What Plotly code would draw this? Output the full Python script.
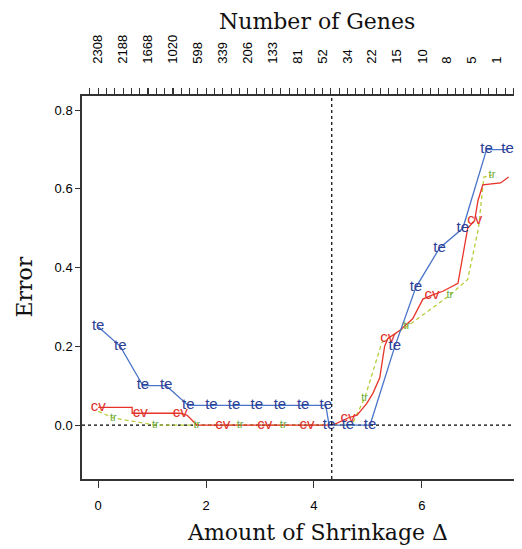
import plotly.graph_objects as go

# test error (blue), one "te" label per point
te_x = [0.00, 0.41, 0.83, 1.26, 1.67, 2.10, 2.52, 2.94, 3.37, 3.80, 4.22, 4.28, 4.63, 5.04, 5.50, 5.89, 6.33, 6.76, 7.20, 7.59]
te_y = [0.25, 0.20, 0.10, 0.10, 0.05, 0.05, 0.05, 0.05, 0.05, 0.05, 0.05, 0.00, 0.00, 0.00, 0.20, 0.35, 0.45, 0.50, 0.70, 0.70]

# cross-validation error (red)
cv_x = [0.00, 0.63, 0.63, 1.52, 1.65, 1.83, 2.31, 3.09, 3.87, 4.35, 4.63, 4.80, 4.98, 5.09, 5.22, 5.31, 5.37,
        5.59, 5.83, 6.02, 6.19, 6.39, 6.67, 6.85, 6.98, 7.04, 7.13, 7.46, 7.61]
cv_y = [0.045, 0.045, 0.03, 0.03, 0.025, 0.0, 0.0, 0.0, 0.0, 0.0, 0.018, 0.025, 0.055, 0.08, 0.12, 0.20, 0.22,
        0.24, 0.27, 0.32, 0.33, 0.34, 0.36, 0.50, 0.52, 0.57, 0.61, 0.615, 0.63]
cv_lab_x = [0.00, 0.78, 1.52, 2.31, 3.09, 3.87, 4.63, 5.37, 6.19, 6.98]
cv_lab_y = [0.045, 0.03, 0.03, 0.0, 0.0, 0.0, 0.018, 0.22, 0.33, 0.52]

# training error (green, dashed)
tr_x = [0.00, 0.28, 1.06, 4.70, 4.94, 5.26, 5.72, 6.52, 6.85, 7.05, 7.15, 7.30]
tr_y = [0.035, 0.018, 0.0, 0.0, 0.068, 0.21, 0.25, 0.33, 0.37, 0.50, 0.63, 0.635]
tr_lab_x = [0.28, 1.06, 1.83, 2.63, 3.43, 4.94, 5.72, 6.52, 7.30]
tr_lab_y = [0.018, 0.0, 0.0, 0.0, 0.0, 0.068, 0.25, 0.33, 0.635]

# top axis: number of genes kept
gene_pos = [0.00, 0.46, 0.92, 1.39, 1.85, 2.31, 2.77, 3.23, 3.70, 4.16, 4.62, 5.08, 5.54, 6.01, 6.47, 6.93, 7.39]
gene_counts = ['2308', '2188', '1668', '1020', '598', '339', '206', '133', '81', '52',
               '34', '22', '15', '10', '8', '5', '1']

chosen_delta = 4.33

tick_font = dict(family='Liberation Sans, Arial, sans-serif', size=13, color='#000')
title_font = dict(family='DejaVu Serif, serif', size=22, color='#111')
lab_family = 'Liberation Sans, Arial, sans-serif'

fig = go.Figure()

# reference lines
fig.add_trace(go.Scatter(x=[-0.3, 7.82], y=[0, 0], mode='lines',
                         line=dict(color='black', width=1.2, dash='3px,3px'), hoverinfo='skip'))
fig.add_trace(go.Scatter(x=[chosen_delta, chosen_delta], y=[-0.137, 0.836], mode='lines', xaxis='x2',
                         line=dict(color='black', width=1.2, dash='3px,3px'), hoverinfo='skip'))

# error curves
fig.add_trace(go.Scatter(x=tr_x, y=tr_y, mode='lines', line=dict(color='#b8cc3a', width=1.3, dash='4px,3px')))
fig.add_trace(go.Scatter(x=cv_x, y=cv_y, mode='lines', line=dict(color='#e8332a', width=1.3)))
fig.add_trace(go.Scatter(x=te_x, y=te_y, mode='lines', line=dict(color='#4a74c8', width=1.3)))

# text labels on the curves
fig.add_trace(go.Scatter(x=tr_lab_x, y=tr_lab_y, mode='text', text=['tr'] * len(tr_lab_x),
                         textfont=dict(family=lab_family, size=11, color='#6aab3a')))
fig.add_trace(go.Scatter(x=cv_lab_x, y=cv_lab_y, mode='text', text=['cv'] * len(cv_lab_x),
                         textfont=dict(family=lab_family, size=15, color='#e0302a')))
fig.add_trace(go.Scatter(x=te_x, y=te_y, mode='text', text=['te'] * len(te_x),
                         textfont=dict(family=lab_family, size=15, color='#2c4096')))

# the page body adds an 8px offset, so the figure is sized to fit inside the window
fig.update_layout(
    width=514, height=541,
    margin=dict(l=74, r=2, t=88, b=70),
    paper_bgcolor='white', plot_bgcolor='white',
    showlegend=False,
    xaxis=dict(range=[-0.3, 7.82], tickvals=[0, 2, 4, 6], ticks='outside', ticklen=7, tickwidth=1.2,
               tickcolor='#333', showline=True, linecolor='#333', linewidth=1.5, showgrid=False,
               zeroline=False, tickfont=tick_font, ticklabelstandoff=7),
    xaxis2=dict(overlaying='x', side='top', matches='x', tickvals=gene_pos, ticktext=gene_counts,
                tickangle=-90, ticks='outside', ticklen=6, tickwidth=1, tickcolor='#333',
                minor=dict(tickmode='linear', tick0=0, dtick=0.154, ticks='outside', ticklen=6,
                           tickwidth=1, tickcolor='#333'),
                showline=True, linecolor='#333', linewidth=1.5, showgrid=False, zeroline=False,
                tickfont=tick_font, ticklabelstandoff=22),
    yaxis=dict(range=[-0.137, 0.836], tickvals=[0, 0.2, 0.4, 0.6, 0.8], tickformat='.1f',
               ticks='outside', ticklen=5, tickwidth=1.2, tickcolor='#333', showline=True,
               linecolor='#333', linewidth=1.5, showgrid=False, zeroline=False, tickfont=tick_font),
    annotations=[
        dict(text='Number of Genes', xref='paper', yref='paper', x=0.537, y=1, yshift=75,
             showarrow=False, font=title_font, yanchor='middle'),
        dict(text='Amount of Shrinkage Δ', xref='paper', yref='paper', x=0.537, y=0, yshift=-53,
             showarrow=False, font=title_font, yanchor='middle'),
        dict(text='Error', xref='paper', yref='paper', x=0, xshift=-58, y=0.5, textangle=-90,
             showarrow=False, font=title_font, xanchor='center'),
    ],
)

fig.write_html("out.html")
